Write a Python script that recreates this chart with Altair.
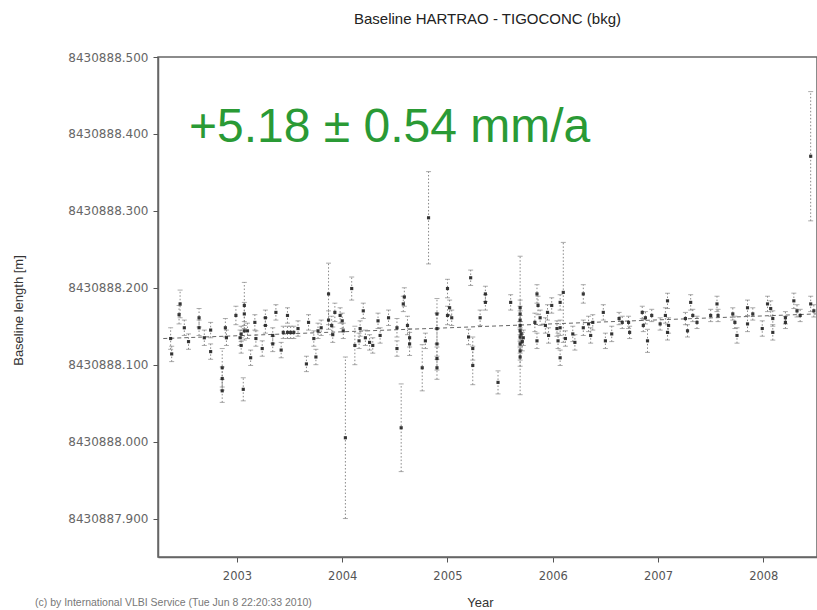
import altair as alt
import pandas as pd

# observation epochs (decimal year)
years = [
    2002.37, 2002.38, 2002.46, 2002.45, 2002.50, 2002.54, 2002.64, 2002.64, 2002.69, 2002.75,
    2002.75, 2002.86, 2002.86, 2002.86, 2002.89, 2002.90, 2002.99, 2003.03, 2003.04, 2003.07,
    2003.07, 2003.07, 2003.04, 2003.13, 2003.06, 2003.10, 2003.17, 2003.18, 2003.27, 2003.27,
    2003.24, 2003.34, 2003.34, 2003.37, 2003.42, 2003.44, 2003.48, 2003.51, 2003.54, 2003.48,
    2003.58, 2003.66, 2003.68, 2003.73, 2003.75, 2003.77, 2003.80, 2003.87, 2003.87, 2003.90,
    2003.91, 2003.93, 2003.98, 2004.00, 2004.01, 2004.03, 2004.09, 2004.12, 2004.17, 2004.20,
    2004.16, 2004.22, 2004.26, 2004.29, 2004.34, 2004.36, 2004.44, 2004.52, 2004.52, 2004.56,
    2004.59, 2004.58, 2004.62, 2004.64, 2004.64, 2004.79, 2004.76, 2004.82, 2004.90, 2004.90,
    2004.90, 2004.90, 2004.90, 2005.00, 2005.00, 2005.02, 2005.04, 2005.22, 2005.20, 2005.24,
    2005.24, 2005.31, 2005.36, 2005.36, 2005.48, 2005.60, 2005.69, 2005.69, 2005.69, 2005.69,
    2005.69, 2005.69, 2005.69, 2005.69, 2005.69, 2005.70, 2005.71, 2005.72, 2005.85, 2005.86,
    2005.83, 2005.88, 2005.85, 2005.95, 2005.93, 2005.96, 2005.99, 2006.10, 2006.04, 2006.07,
    2006.07, 2006.05, 2006.07, 2006.12, 2006.21, 2006.19, 2006.29, 2006.29, 2006.34, 2006.38,
    2006.36, 2006.48, 2006.50, 2006.56, 2006.63, 2006.66, 2006.72, 2006.73, 2006.85, 2006.88,
    2006.90, 2006.94, 2006.86, 2007.02, 2007.07, 2007.09, 2007.10, 2007.09, 2007.26, 2007.28,
    2007.31, 2007.33, 2007.37, 2007.50, 2007.56, 2007.57, 2007.71, 2007.73, 2007.75, 2007.85,
    2007.85, 2007.90, 2007.99, 2008.04, 2008.07, 2008.09, 2008.09, 2008.21, 2008.21, 2008.29,
    2008.32, 2008.35, 2008.45, 2008.45, 2008.48,
]

# baseline length [m]
lengths = [
    8430888.134, 8430888.114, 8430888.179, 8430888.165, 8430888.148, 8430888.130, 8430888.161, 8430888.148, 8430888.135, 8430888.145,
    8430888.117, 8430888.096, 8430888.082, 8430888.066, 8430888.148, 8430888.135, 8430888.164, 8430888.135, 8430888.140, 8430888.177,
    8430888.166, 8430888.144, 8430888.125, 8430888.109, 8430888.068, 8430888.144, 8430888.155, 8430888.134, 8430888.161, 8430888.151,
    8430888.121, 8430888.138, 8430888.127, 8430888.168, 8430888.119, 8430888.142, 8430888.142, 8430888.142, 8430888.142, 8430888.164,
    8430888.147, 8430888.101, 8430888.155, 8430888.134, 8430888.110, 8430888.144, 8430888.148, 8430888.192, 8430888.158, 8430888.151,
    8430888.139, 8430888.168, 8430888.164, 8430888.157, 8430888.144, 8430888.005, 8430888.199, 8430888.125, 8430888.147, 8430888.170,
    8430888.131, 8430888.135, 8430888.129, 8430888.125, 8430888.157, 8430888.138, 8430888.161, 8430888.148, 8430888.121, 8430888.018,
    8430888.188, 8430888.179, 8430888.151, 8430888.127, 8430888.135, 8430888.131, 8430888.096, 8430888.291, 8430888.166, 8430888.147,
    8430888.127, 8430888.108, 8430888.096, 8430888.199, 8430888.164, 8430888.174, 8430888.161, 8430888.213, 8430888.136, 8430888.121,
    8430888.099, 8430888.161, 8430888.181, 8430888.192, 8430888.077, 8430888.181, 8430888.174, 8430888.166, 8430888.158, 8430888.151,
    8430888.144, 8430888.136, 8430888.127, 8430888.118, 8430888.110, 8430888.140, 8430888.130, 8430888.135, 8430888.192, 8430888.177,
    8430888.155, 8430888.161, 8430888.131, 8430888.168, 8430888.151, 8430888.138, 8430888.177, 8430888.194, 8430888.147, 8430888.148,
    8430888.181, 8430888.131, 8430888.109, 8430888.134, 8430888.129, 8430888.140, 8430888.192, 8430888.148, 8430888.153, 8430888.155,
    8430888.138, 8430888.168, 8430888.131, 8430888.140, 8430888.160, 8430888.155, 8430888.155, 8430888.142, 8430888.168, 8430888.161,
    8430888.131, 8430888.164, 8430888.151, 8430888.153, 8430888.164, 8430888.183, 8430888.151, 8430888.142, 8430888.160, 8430888.144,
    8430888.181, 8430888.164, 8430888.155, 8430888.164, 8430888.179, 8430888.164, 8430888.166, 8430888.155, 8430888.138, 8430888.174,
    8430888.153, 8430888.166, 8430888.147, 8430888.179, 8430888.173, 8430888.160, 8430888.142, 8430888.161, 8430888.155, 8430888.183,
    8430888.170, 8430888.164, 8430888.371, 8430888.179, 8430888.170,
]

# formal errors [m]
sigmas = [
    0.014, 0.010, 0.018, 0.012, 0.010, 0.010, 0.012, 0.010, 0.010, 0.010,
    0.010, 0.025, 0.015, 0.015, 0.012, 0.010, 0.012, 0.010, 0.010, 0.030,
    0.015, 0.012, 0.010, 0.010, 0.015, 0.010, 0.010, 0.010, 0.010, 0.010,
    0.010, 0.010, 0.010, 0.010, 0.010, 0.008, 0.008, 0.008, 0.008, 0.010,
    0.010, 0.010, 0.010, 0.010, 0.010, 0.010, 0.010, 0.040, 0.012, 0.012,
    0.010, 0.012, 0.010, 0.010, 0.010, 0.105, 0.015, 0.025, 0.010, 0.010,
    0.010, 0.010, 0.010, 0.010, 0.010, 0.010, 0.010, 0.012, 0.010, 0.057,
    0.012, 0.010, 0.012, 0.015, 0.012, 0.010, 0.030, 0.060, 0.020, 0.020,
    0.020, 0.015, 0.015, 0.012, 0.012, 0.010, 0.010, 0.010, 0.010, 0.015,
    0.025, 0.010, 0.010, 0.010, 0.015, 0.010, 0.010, 0.010, 0.012, 0.090,
    0.012, 0.012, 0.012, 0.012, 0.012, 0.012, 0.012, 0.010, 0.012, 0.012,
    0.012, 0.010, 0.010, 0.010, 0.010, 0.010, 0.010, 0.065, 0.010, 0.010,
    0.010, 0.010, 0.010, 0.010, 0.010, 0.010, 0.012, 0.010, 0.010, 0.010,
    0.010, 0.010, 0.010, 0.010, 0.008, 0.008, 0.008, 0.008, 0.008, 0.008,
    0.015, 0.008, 0.008, 0.008, 0.010, 0.010, 0.010, 0.010, 0.008, 0.008,
    0.010, 0.008, 0.008, 0.008, 0.010, 0.008, 0.008, 0.008, 0.010, 0.010,
    0.010, 0.008, 0.010, 0.010, 0.010, 0.010, 0.010, 0.008, 0.008, 0.010,
    0.008, 0.008, 0.084, 0.010, 0.008,
]

# linear trend (end points)
trend_years = [2002.30, 2008.50]
trend_lengths = [8430888.134, 8430888.166]

year_ticks = [2003, 2004, 2005, 2006, 2007, 2008]
length_ticks = [8430887.9, 8430888.0, 8430888.1, 8430888.2, 8430888.3, 8430888.4, 8430888.5]

rate_text = "+5.18 ± 0.54 mm/a"
title_text = "Baseline HARTRAO - TIGOCONC (bkg)"
credit_text = "(c) by International VLBI Service (Tue Jun  8 22:20:33 2010)"

df = pd.DataFrame({"year": years, "length": lengths, "sigma": sigmas})
df["lo"] = df["length"] - df["sigma"]
df["hi"] = df["length"] + df["sigma"]
trend = pd.DataFrame({"year": trend_years, "length": trend_lengths})

FONT = "Liberation Sans"
TICKFONT = "DejaVu Sans"
xdom = [2002.25, 2008.51]
ydom = [8430887.85, 8430888.5]

xscale = alt.Scale(domain=xdom, nice=False, zero=False)
yscale = alt.Scale(domain=ydom, nice=False, zero=False)

bottom_axis = alt.Axis(
    orient="bottom", values=year_ticks, format="d", grid=False,
    title="Year", titleX=322, titleY=45, titleBaseline="middle",
    titleFontSize=13, titleFontWeight="normal", titleColor="#333", titleFont=FONT,
    labelFontSize=11.5, labelColor="#555", labelPadding=8, labelFont=TICKFONT,
    tickSize=5, tickColor="#555", domainColor="#666", domainWidth=1.5,
)
left_axis = alt.Axis(
    values=length_ticks, format=".3f", grid=False,
    title="Baseline length [m]", titleX=-140, titleY=253, titleAngle=270,
    titleBaseline="middle", titleAlign="center",
    titleFontSize=13, titleFontWeight="normal", titleColor="#333", titleFont=FONT,
    labelFontSize=12, labelColor="#666", labelPadding=5, labelFont=TICKFONT,
    tickSize=5, tickColor="#555", domainColor="#666", domainWidth=1.5,
)

bars = alt.Chart(df).mark_rule(color="#888", strokeDash=[1.5, 2], strokeWidth=1).encode(
    x=alt.X("year:Q", scale=xscale, axis=bottom_axis),
    y=alt.Y("lo:Q", scale=yscale, axis=left_axis),
    y2="hi:Q",
)

trend_line = alt.Chart(trend).mark_line(color="#666", strokeDash=[4, 3], strokeWidth=1).encode(
    x=alt.X("year:Q", scale=xscale, axis=None),
    y=alt.Y("length:Q", scale=yscale, axis=left_axis),
)

cap_lo = alt.Chart(df).mark_tick(color="#888", orient="horizontal", size=5, thickness=1).encode(
    x=alt.X("year:Q", scale=xscale, axis=None),
    y=alt.Y("lo:Q", scale=yscale, axis=left_axis),
)
cap_hi = alt.Chart(df).mark_tick(color="#888", orient="horizontal", size=5, thickness=1).encode(
    x=alt.X("year:Q", scale=xscale, axis=None),
    y=alt.Y("hi:Q", scale=yscale, axis=left_axis),
)

points = alt.Chart(df).mark_point(shape="square", filled=True, size=10, color="#222", opacity=0.9).encode(
    x=alt.X("year:Q", scale=xscale, axis=None),
    y=alt.Y("length:Q", scale=yscale, axis=left_axis),
)

rate = alt.Chart(pd.DataFrame({"t": [rate_text]})).mark_text(
    align="left", baseline="alphabetic", fontSize=48, font=FONT, color="#2a9a35"
).encode(x=alt.value(31), y=alt.value(85), text="t:N")

credit = alt.Chart(pd.DataFrame({"t": [credit_text]})).mark_text(
    align="left", baseline="alphabetic", fontSize=10.5, font=FONT, color="#777"
).encode(x=alt.value(-123), y=alt.value(549), text="t:N")

chart = alt.layer(
    bars, trend_line, cap_lo, cap_hi, points, rate, credit
).resolve_axis(x="independent").properties(
    width=659, height=500,
    title=alt.TitleParams(title_text, fontSize=15, fontWeight="normal", font=FONT,
                          color="#222", anchor="middle", offset=24),
    autosize=alt.AutoSizeParams(type="none"),
    padding={"left": 158, "top": 57, "right": 0, "bottom": 53},
).configure_view(stroke="#666", strokeWidth=1.5)

chart.save("out.html", embed_options={"renderer": "svg", "actions": False})
